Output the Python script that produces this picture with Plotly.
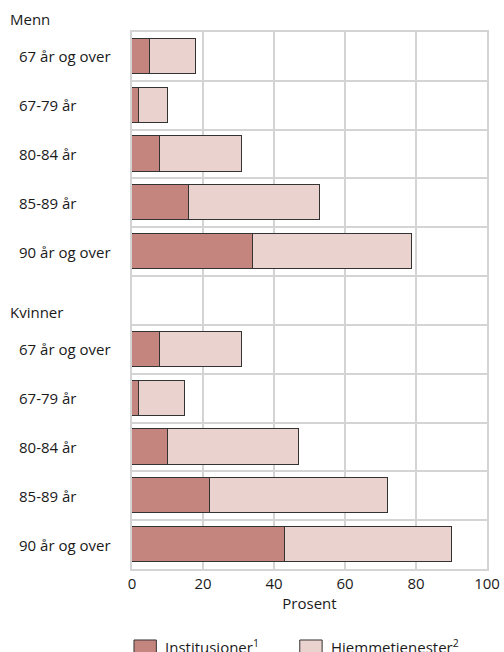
import plotly.graph_objects as go

groups = ["Menn", "Kvinner"]
age_groups = ["67 år og over", "67-79 år", "80-84 år", "85-89 år", "90 år og over"]

institusjoner = {
    "Menn": [5, 2, 8, 16, 34],
    "Kvinner": [8, 2, 10, 22, 43],
}
hjemmetjenester = {
    "Menn": [13, 8, 23, 37, 45],
    "Kvinner": [23, 13, 37, 50, 47],
}

series_names = ["Institusjoner<sup>1</sup>", "Hjemmetjenester<sup>2</sup>"]
colors = ["#c4857f", "#ead3ce"]

# one row per age group, with an empty row between the two groups
rows_per_group = len(age_groups) + 1
pos, inst_vals, hjem_vals, labels = [], [], [], []
for g, grp in enumerate(groups):
    for i, lab in enumerate(age_groups):
        pos.append(g * rows_per_group + i)
        inst_vals.append(institusjoner[grp][i])
        hjem_vals.append(hjemmetjenester[grp][i])
        labels.append(lab)

n_rows = rows_per_group * len(groups) - 1

fig = go.Figure()
for name, vals, col in zip(series_names, [inst_vals, hjem_vals], colors):
    fig.add_trace(go.Bar(
        x=vals, y=pos, orientation="h", name=name,
        marker=dict(color=col, line=dict(color="#333333", width=1)),
        width=0.72, showlegend=False,
    ))

font = "Open Sans, Noto Sans, sans-serif"
txt = dict(size=15, color="#1a1a1a", family=font)
annotations = []
for p, lab in zip(pos, labels):
    annotations.append(dict(
        x=-0.3235, xref="paper", y=p, yref="y", text=lab,
        showarrow=False, xanchor="left", yanchor="middle", font=txt,
    ))
for g, grp in enumerate(groups):
    annotations.append(dict(
        x=-0.349, xref="paper", y=1 - g * rows_per_group / n_rows, yref="paper",
        text=grp, showarrow=False, xanchor="left", yanchor="bottom",
        yshift=1, font=txt,
    ))

# legend drawn by hand so the swatches can be as large as in the original
shapes = []
legend_x = [0.0056, 0.4726]
for lx, name, col in zip(legend_x, series_names, colors):
    shapes.append(dict(
        type="rect", xref="paper", yref="paper",
        x0=lx, x1=lx + 0.063, y0=-0.1322, y1=-0.18,
        fillcolor=col, line=dict(color="#333333", width=1),
    ))
    annotations.append(dict(
        x=lx + 0.082, xref="paper", y=-0.1508, yref="paper", text=name,
        showarrow=False, xanchor="left", yanchor="middle", yshift=3, font=txt,
    ))

grid = "#d4d4d4"
fig.update_layout(
    barmode="stack",
    width=504, height=652,
    margin=dict(l=132, r=17, t=32, b=83, autoexpand=False),
    paper_bgcolor="white", plot_bgcolor="white",
    font=dict(family=font, size=15, color="#1a1a1a"),
    showlegend=False,
    annotations=annotations,
    shapes=shapes,
    bargap=0,
)
fig.update_xaxes(
    range=[0, 100], tickmode="linear", tick0=0, dtick=20,
    showgrid=True, gridcolor=grid, gridwidth=2,
    showline=True, linecolor=grid, linewidth=2, mirror=True,
    zeroline=False, ticks="", tickfont=dict(size=15),
    title=dict(text="Prosent", standoff=0, font=dict(size=15)),
)
fig.update_yaxes(
    range=[n_rows - 0.5, -0.5], tickmode="linear", tick0=0.5, dtick=1,
    showgrid=True, gridcolor=grid, gridwidth=2,
    showline=True, linecolor=grid, linewidth=2, mirror=True,
    zeroline=False, showticklabels=False, ticks="",
)

fig.write_html("out.html", config={"displayModeBar": False},
               post_script="document.body.style.margin='0';")
